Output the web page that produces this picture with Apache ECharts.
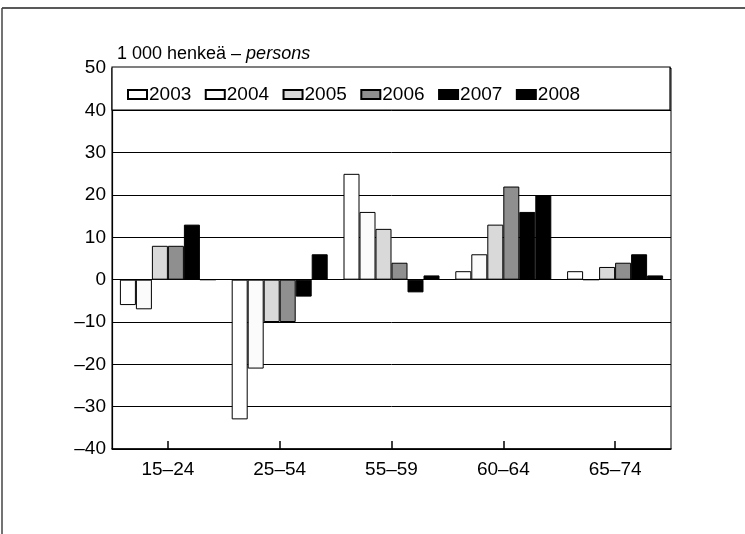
<!DOCTYPE html>
<html><head><meta charset="utf-8">
<script src="https://cdn.jsdelivr.net/npm/echarts@6/dist/echarts.min.js"></script>
<style>html,body{margin:0;padding:0;background:#fff}#c{width:745px;height:534px}</style>
</head><body><div id="c"></div>
<script>
const categories = ['15–24', '25–54', '55–59', '60–64', '65–74'];
const years = ['2003', '2004', '2005', '2006', '2007', '2008'];
const v2003 = [-6, -33, 25, 2, 2];
const v2004 = [-7, -21, 16, 6, 0];
const v2005 = [8, -10, 12, 13, 3];
const v2006 = [8, -10, 4, 22, 4];
const v2007 = [13, -4, -3, 16, 6];
const v2008 = [0, 6, 1, 20, 1];
const yTicks = [-40, -30, -20, -10, 0, 10, 20, 30, 40, 50];

const values = [v2003, v2004, v2005, v2006, v2007, v2008];
const fills = ['#ffffff', '#fbfbfb', '#d9d9d9', '#8f8f8f', '#000000', '#000000'];
const FONT = 'Liberation Sans, Arial, sans-serif';

const chart = echarts.init(document.getElementById('c'));
chart.setOption({
  animation: false,
  backgroundColor: '#fff',
  title: {
    left: 112, top: 40,
    text: '{a|1 000 henkeä – }{b|persons}',
    textStyle: {
      fontWeight: 'normal',
      rich: {
        a: {fontFamily: FONT, fontSize: 18, color: '#000', fontWeight: 'normal'},
        b: {fontFamily: FONT, fontSize: 18, color: '#000', fontWeight: 'normal', fontStyle: 'italic'}
      }
    }
  },
  graphic: [
    {type: 'line', shape: {x1: 2, y1: 8, x2: 745, y2: 8}, style: {stroke: '#222', lineWidth: 1.5}},
    {type: 'line', shape: {x1: 2, y1: 8, x2: 2, y2: 534}, style: {stroke: '#444', lineWidth: 1.5}},
    {type: 'rect', z: 1, shape: {x: 112, y: 67, width: 558, height: 43}, style: {fill: '#fff', stroke: '#000', lineWidth: 1.2}}
  ],
  legend: {
    left: 122, top: 80,
    itemWidth: 19, itemHeight: 9, itemGap: 13.5,
    icon: 'rect',
    textStyle: {fontFamily: FONT, fontSize: 19, color: '#000', padding: [0, 0, 0, -3]},
    data: years
  },
  grid: {left: 112, right: 74, top: 68, bottom: 85, show: true, borderColor: '#000', borderWidth: 1},
  xAxis: {
    type: 'category',
    data: categories,
    axisLine: {show: true, onZero: false, lineStyle: {color: '#000', width: 1.5}},
    axisTick: {show: true, inside: true, length: 8, alignWithLabel: true, lineStyle: {color: '#000', width: 1.5}},
    axisLabel: {fontFamily: FONT, fontSize: 19, color: '#000', margin: 11},
    splitLine: {show: false}
  },
  yAxis: {
    type: 'value',
    min: yTicks[0], max: yTicks[yTicks.length - 1], interval: 10,
    axisLine: {show: true, lineStyle: {color: '#000', width: 1.2}},
    axisTick: {show: false},
    axisLabel: {
      fontFamily: FONT, fontSize: 19, color: '#000', margin: 6,
      formatter: v => (v < 0 ? '–' + Math.abs(v) : String(v))
    },
    splitLine: {show: true, lineStyle: {color: '#000', width: 1}}
  },
  series: years.map((y, i) => ({
    name: y,
    type: 'bar',
    data: values[i],
    barWidth: 16,
    barGap: '0%',
    itemStyle: {color: fills[i], borderColor: '#000', borderWidth: 1}
  }))
});
</script></body></html>
